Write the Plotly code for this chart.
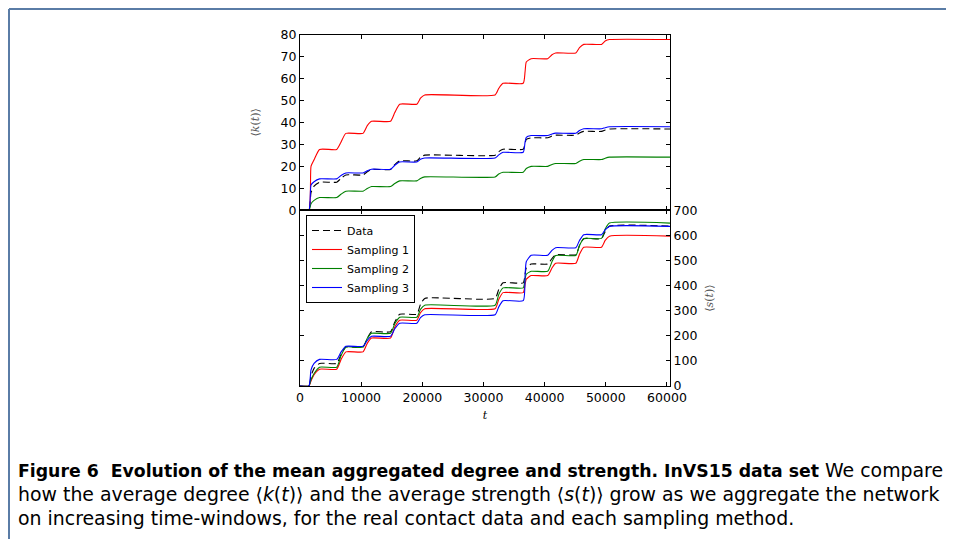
import plotly.graph_objects as go

# time grid (s) shared by all curves: plateau ends / riser points
t = [0, 1450, 1800, 2300, 3200, 6000, 6700, 7500, 10300, 11000, 11700,
     14800, 15500, 16300, 19100, 19700, 20400, 31900, 32500, 33200,
     36500, 36800, 37000, 37800, 40500, 41200, 41800, 45100, 45700,
     46400, 49300, 49900, 50600, 60500]

# mean aggregated degree <k(t)>
k_data = [0, 0, 8, 11, 12.8, 12.8, 14.5, 16.1, 16.1, 17.5, 18.6, 18.6, 20.8,
          22.5, 22.5, 24.2, 25.1, 25.1, 26.7, 27.8, 27.8, 30.5, 32.3, 33,
          33, 33.8, 34.2, 34.2, 35.2, 35.9, 35.9, 36.5, 37, 37]
k_s1 = [0, 0, 20, 23, 27.7, 27.7, 31, 35, 35, 38.5, 40.5, 40.5, 44.5, 48.3,
        48.3, 51, 52.5, 52.5, 55.5, 57.8, 57.8, 63, 67.5, 69, 69, 70.8,
        71.6, 71.6, 74, 75.5, 75.5, 77, 77.7, 77.7]
k_s2 = [0, 0, 3, 4.5, 5.8, 5.8, 7.3, 8.7, 8.7, 9.9, 10.8, 10.8, 12.2, 13.4,
        13.4, 14.5, 15.2, 15.2, 16.5, 17.3, 17.3, 18.3, 19, 20, 20, 20.8,
        21.3, 21.3, 22.3, 23.1, 23.1, 23.7, 24.2, 24.2]
k_s3 = [0, 0, 11.5, 13, 14.3, 14.3, 15.8, 17, 17, 18, 18.7, 18.7, 20.5, 22,
        22, 23.2, 23.8, 23.8, 25.2, 26.4, 26.4, 31, 33.2, 34, 34, 34.7,
        35.1, 35.1, 36.3, 37.1, 37.1, 37.6, 38, 38]

# mean aggregated strength <s(t)>
s_data = [0, 0, 40, 70, 90, 90, 125, 155, 155, 190, 216, 216, 255, 286, 286,
          325, 349, 349, 385, 411, 411, 445, 470, 486, 486, 508, 523, 523,
          560, 587, 587, 615, 637, 637]
s_s1 = [0, 0, 20, 45, 67, 67, 105, 136, 136, 170, 191, 191, 235, 262, 262,
        292, 308, 308, 345, 372, 372, 405, 425, 440, 440, 470, 489, 489,
        525, 553, 553, 580, 597, 597]
s_s2 = [0, 0, 25, 50, 75, 75, 120, 155, 155, 190, 210, 210, 248, 274, 274,
        305, 322, 322, 365, 391, 391, 425, 445, 457, 457, 495, 520, 520,
        560, 588, 588, 625, 649, 649]
s_s3 = [0, 0, 64, 90, 106, 106, 135, 158, 158, 182, 198, 198, 228, 250, 250,
        272, 284, 284, 315, 340, 340, 440, 495, 521, 521, 540, 551, 551,
        580, 603, 603, 622, 636, 636]

names = ['Data', 'Sampling 1', 'Sampling 2', 'Sampling 3']
colors = ['black', '#ff0000', '#008000', '#0000ff']
k_all = [k_data, k_s1, k_s2, k_s3]
s_all = [s_data, s_s1, s_s2, s_s3]

x_ticks = [0, 10000, 20000, 30000, 40000, 50000, 60000]

B = '<span style="font-size:17.3px"><b>'
caption = [
    B + 'Figure 6  Evolution of the mean aggregated degree and strength. InVS15 data set</b></span> We compare',
    'how the average degree ⟨<i>k</i>(<i>t</i>)⟩ and the average strength ⟨<i>s</i>(<i>t</i>)⟩ grow as we aggregate the network',
    'on increasing time-windows, for the real contact data and each sampling method.',
]

W, H = 954, 539
OFF = 8  # the page body margin shifts the figure by 8 px right and down


def px(x):
    return (x - OFF) / W


def py(y):
    return 1 - (y - OFF) / H


fig = go.Figure()

for i in range(4):
    dash = 'solid' if i else '7px,4px'
    fig.add_trace(go.Scatter(x=t, y=k_all[i], mode='lines', name=names[i],
                             line=dict(color=colors[i], width=1.1, dash=dash,
                                       shape='spline', smoothing=0.5),
                             xaxis='x', yaxis='y', showlegend=False))
for i in range(4):
    dash = 'solid' if i else '7px,4px'
    fig.add_trace(go.Scatter(x=t, y=s_all[i], mode='lines', name=names[i],
                             line=dict(color=colors[i], width=1.1, dash=dash,
                                       shape='spline', smoothing=0.5),
                             xaxis='x2', yaxis='y2'))

xdom = [px(300), px(670)]
ax = dict(showline=True, linecolor='black', linewidth=1, mirror='ticks',
          ticks='inside', ticklen=4, tickcolor='black', showgrid=False,
          zeroline=False, automargin=False,
          tickfont=dict(family='DejaVu Sans', size=12.5, color='black'))

fig.update_layout(
    width=W, height=H,
    margin=dict(l=0, r=0, t=0, b=0, autoexpand=False),
    paper_bgcolor='white', plot_bgcolor='white',
    xaxis=dict(domain=xdom, range=[0, 60500], anchor='y', tickvals=x_ticks,
               showticklabels=False, **ax),
    yaxis=dict(domain=[py(210.3), py(34.5)], range=[0, 80], dtick=10,
               anchor='x', side='left',
               title=dict(text='⟨<i>k</i>(<i>t</i>)⟩', standoff=18,
                          font=dict(family='DejaVu Serif', size=11, color='#555555')),
               **ax),
    xaxis2=dict(domain=xdom, range=[0, 60500], anchor='y2', tickvals=x_ticks,
                tickformat='d',
                title=dict(text='<i>t</i>', standoff=7,
                           font=dict(family='DejaVu Serif', size=11, color='black')),
                **ax),
    yaxis2=dict(domain=[py(386), py(210.3)], range=[0, 700], dtick=100,
                anchor='x2', side='right',
                title=dict(text='⟨<i>s</i>(<i>t</i>)⟩', standoff=8,
                           font=dict(family='DejaVu Serif', size=11, color='#555555')),
                **ax),
    legend=dict(x=px(306), y=py(215), xanchor='left', yanchor='top',
                bgcolor='white', bordercolor='black', borderwidth=1,
                font=dict(family='DejaVu Sans', size=11, color='black'),
                itemwidth=30, tracegroupgap=0),
    showlegend=True,
)

# figure frame (left and top edges)
fig.add_shape(type='line', xref='paper', yref='paper', x0=1 / W, x1=1,
              y0=1 - 1 / H, y1=1 - 1 / H, line=dict(color='#5a7ca6', width=2))
fig.add_shape(type='line', xref='paper', yref='paper', x0=1 / W, x1=1 / W,
              y0=0, y1=1 - 1 / H, line=dict(color='#5a7ca6', width=2))

for j, line in enumerate(caption):
    fig.add_annotation(text=line, xref='paper', yref='paper', x=px(16),
                       y=py(470 + 24 * j), xanchor='left', yanchor='middle',
                       showarrow=False,
                       font=dict(family='DejaVu Sans', size=18.9, color='black'))

fig.write_html('out.html')
